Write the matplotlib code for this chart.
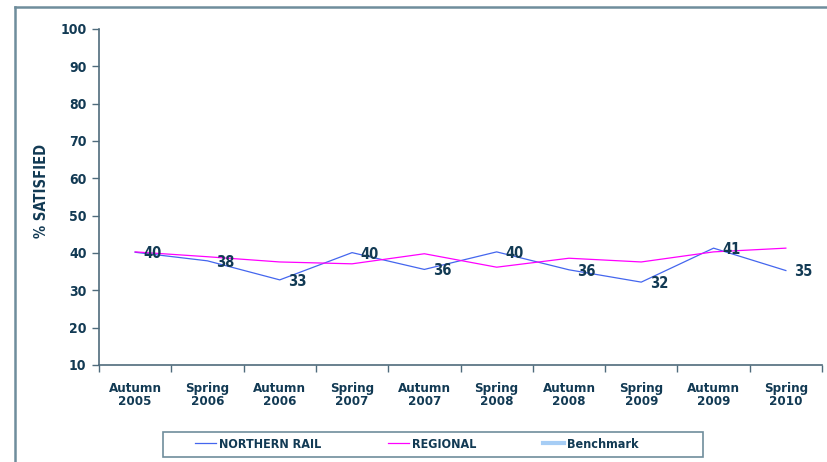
import matplotlib
matplotlib.use("Agg")
import matplotlib.pyplot as plt
from matplotlib.lines import Line2D
from matplotlib.patches import Rectangle
import numpy as np

# survey waves
waves = ["Autumn\n2005", "Spring\n2006", "Autumn\n2006", "Spring\n2007", "Autumn\n2007",
         "Spring\n2008", "Autumn\n2008", "Spring\n2009", "Autumn\n2009", "Spring\n2010"]

# % satisfied
northern_rail = [40.2, 37.9, 32.8, 40.1, 35.6, 40.3, 35.5, 32.2, 41.3, 35.3]
regional = [40.3, 39.0, 37.6, 37.1, 39.8, 36.2, 38.6, 37.6, 40.3, 41.3]
benchmark = []

y_ticks = [10, 20, 30, 40, 50, 60, 70, 80, 90, 100]

TEXT = "#123a54"
AXIS = "#4f6b7c"
FRAME = "#6f8d9c"

plt.rcParams["font.family"] = ["DejaVu Sans"]
plt.rcParams["font.stretch"] = "condensed"

fig = plt.figure(figsize=(8.27, 4.62), dpi=100, facecolor="white")
ax = fig.add_axes([99 / 827, 1 - 365 / 462, 723 / 827, 336 / 462])

x = np.arange(len(waves))
ax.plot(x, northern_rail, color="#4466ee", linewidth=0.9, label="NORTHERN RAIL")
ax.plot(x, regional, color="#ff00ff", linewidth=0.9, label="REGIONAL")
ax.plot(x[:len(benchmark)], benchmark, color="#a6cdf5", linewidth=3, label="Benchmark")

# data labels for Northern Rail
for xi, v in zip(x, northern_rail):
    ax.annotate(f"{round(v):d}", xy=(xi, v), xytext=(6, -1), textcoords="offset points",
                ha="left", va="center", fontsize=10.5, fontweight="bold", color=TEXT)

ax.set_xlim(-0.5, len(waves) - 0.5)
ax.set_ylim(10, 100)
ax.set_yticks(y_ticks)
ax.set_xticks(x)
ax.set_xticklabels(waves, linespacing=1.05)
ax.set_xticks(np.arange(len(waves) + 1) - 0.5, minor=True)
ax.tick_params(axis="x", which="major", length=0, pad=12, labelsize=9.5, labelcolor=TEXT)
ax.tick_params(axis="x", which="minor", length=5, color=AXIS, width=1)
ax.tick_params(axis="y", length=5, color=AXIS, width=1, pad=4, labelsize=10, labelcolor=TEXT)
for lbl in ax.get_xticklabels() + ax.get_yticklabels():
    lbl.set_fontweight("bold")

ax.spines["top"].set_visible(False)
ax.spines["right"].set_visible(False)
for s in ("left", "bottom"):
    ax.spines[s].set_color(AXIS)
    ax.spines[s].set_linewidth(1.2)

fig.text(42 / 827, 1 - 191 / 462, "% SATISFIED", rotation=90, ha="center", va="center",
         fontsize=10.5, fontweight="bold", color=TEXT)

# outer frame (top and left edges visible)
fig.add_artist(Line2D([15 / 827, 1.0], [1 - 7 / 462, 1 - 7 / 462], transform=fig.transFigure,
                      color=FRAME, linewidth=1.8))
fig.add_artist(Line2D([15 / 827, 15 / 827], [0.0, 1 - 7 / 462], transform=fig.transFigure,
                      color=FRAME, linewidth=1.8))

# legend box
fig.add_artist(Rectangle((163 / 827, 1 - 457 / 462), 540 / 827, 25 / 462,
                         transform=fig.transFigure, facecolor="white", edgecolor=FRAME,
                         linewidth=1.2))
leg = fig.legend(loc="center left", bbox_to_anchor=(195 / 827, 1 - 444 / 462), ncol=3,
                 frameon=False, handlelength=1.7, handletextpad=0.25, columnspacing=5.3,
                 borderpad=0, borderaxespad=0, prop={"weight": "bold", "size": 9})
for t in leg.get_texts():
    t.set_color(TEXT)

fig.savefig("out.png", dpi=100, facecolor="white")
